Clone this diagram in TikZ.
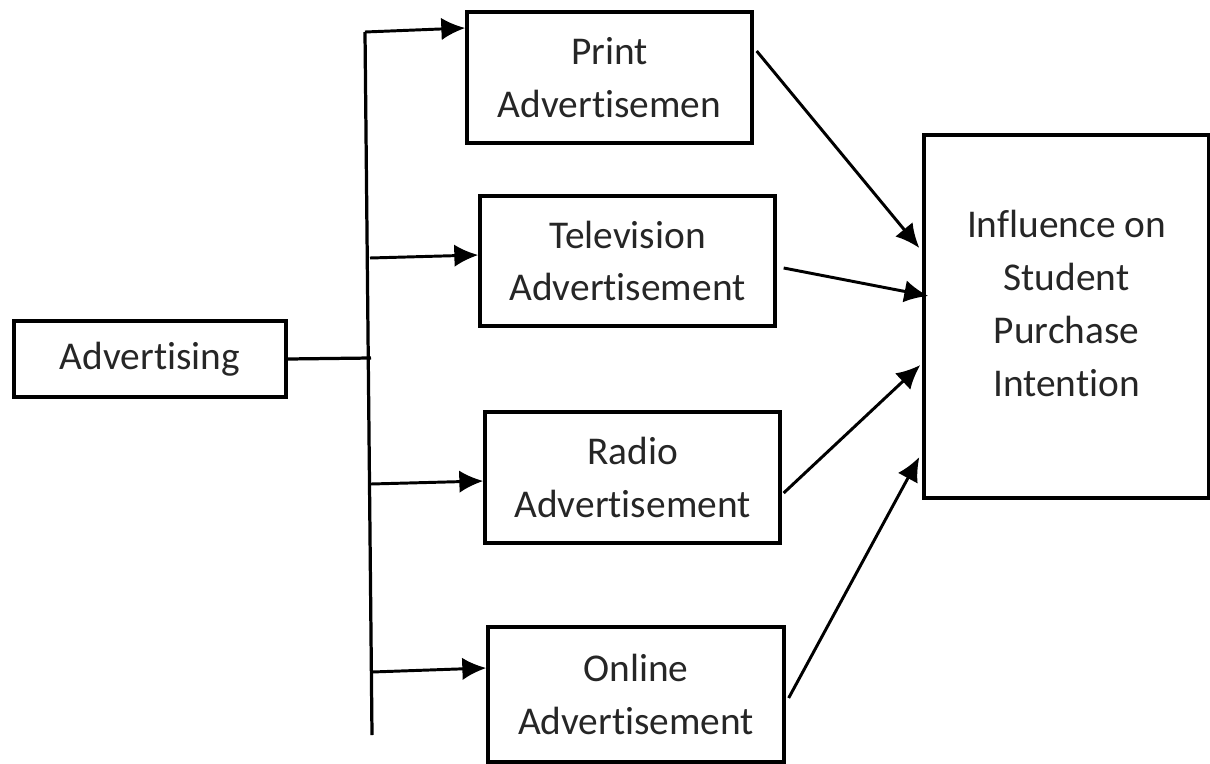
\documentclass[tikz,border=0pt]{standalone}
\usepackage{fontspec}
\setmainfont{Carlito}[Ligatures=NoCommon]
\usepackage{tikz}
\usetikzlibrary{calc}
\usetikzlibrary{arrows.meta,positioning}

\definecolor{txtgrey}{HTML}{262626}

\tikzset{
  varbox/.style={rectangle,draw=black,line width=2.3pt,align=center,text=txtgrey,
    font=\fontsize{28}{37.5}\selectfont,inner sep=0pt},
  flowarrow/.style={arrows=-{Latex[length=0.6cm,width=0.56cm]},line width=2.1pt},
}

\begin{document}
\begin{tikzpicture}[x=0.025cm,y=-0.025cm]

\useasboundingbox (0,0) rectangle (1210,763);

\coordinate (LEFTCORNER) at (0,0);

%draw the left box
\node[varbox,minimum width=6.8cm,minimum height=1.9cm] at ($(LEFTCORNER)+(150,359)$) (adv) {Advertising};

%%%%%%%

%draw the four media boxes
\node[varbox,minimum width=7.125cm,minimum height=3.275cm] at ($(LEFTCORNER)+(609.5,77.5)$) (print) {Print\\Advertisemen};
\node[varbox,minimum width=7.375cm,minimum height=3.25cm] at ($(LEFTCORNER)+(627.5,261)$) (tv) {Television\\Advertisement};
\node[varbox,minimum width=7.375cm,minimum height=3.275cm] at ($(LEFTCORNER)+(632.5,477.5)$) (radio) {Radio\\Advertisement};
\node[varbox,minimum width=7.4cm,minimum height=3.375cm] at ($(LEFTCORNER)+(636,694.5)$) (online) {Online\\Advertisement};

%draw the outcome box, text sits a bit above the middle
\node[varbox,minimum width=7.125cm,minimum height=9.075cm] at ($(LEFTCORNER)+(1066.5,316.5)$) (infl) {};
\node[align=center,text=txtgrey,font=\fontsize{28}{37.5}\selectfont,inner sep=0pt] at ($(infl)+(0,-13)$) (infltext) {Influence on\\Student\\Purchase\\Intention};

%%%%%%%

%the trunk line
\coordinate (TRUNKTOP) at ($(LEFTCORNER)+(365,32)$);
\coordinate (TRUNKBOT) at ($(LEFTCORNER)+(372,735)$);
\coordinate (JOIN) at ($(LEFTCORNER)+(371,358)$);
\coordinate (TVSTART) at ($(LEFTCORNER)+(370,258)$);
\coordinate (RADIOSTART) at ($(LEFTCORNER)+(371,484)$);
\coordinate (ONLINESTART) at ($(LEFTCORNER)+(372,672)$);

\draw[line width=2.3pt] (TRUNKTOP) -- (TRUNKBOT);
\draw[line width=2.3pt] (adv.east) -- (JOIN);

 \draw[flowarrow] (TRUNKTOP) -- ($(print.west)+(0,-49.5)$);
 \draw[flowarrow] (TVSTART) -- ($(tv.west)+(0,-6)$);
 \draw[flowarrow] (RADIOSTART) -- ($(radio.west)+(0,3.5)$);
 \draw[flowarrow] (ONLINESTART) -- ($(online.west)+(0,-26.5)$);

%arrows into the outcome box
 \draw[flowarrow] ($(print.east)+(3,-26.5)$) -- ($(infl.west)+(-3,-68.5)$);
 \draw[flowarrow] ($(tv.east)+(7,7)$) -- ($(infl.west)+(6,-20.5)$);
 \draw[flowarrow] ($(radio.east)+(2,15.5)$) -- ($(infl.west)+(-2,48.5)$);
 \draw[flowarrow] ($(online.east)+(3,3.5)$) -- ($(infl.west)+(-3,140.5)$);

\end{tikzpicture}
\end{document}
